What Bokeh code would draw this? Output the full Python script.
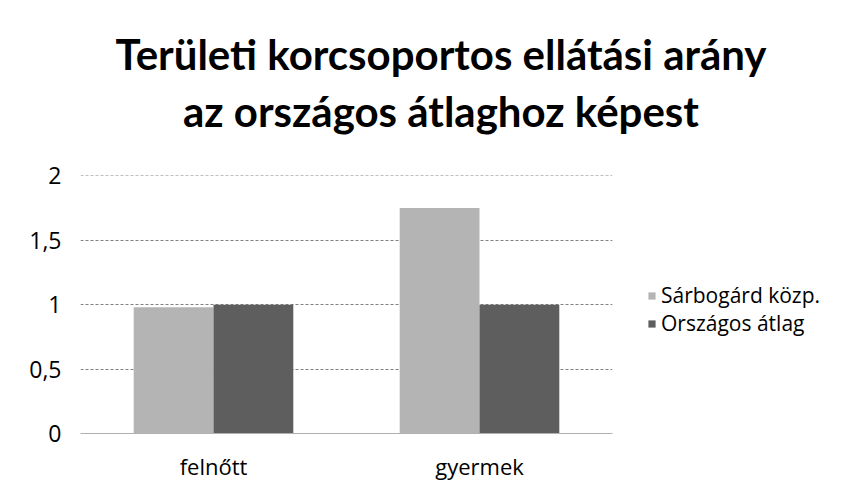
from bokeh.plotting import figure
from bokeh.models import ColumnDataSource, FactorRange, Range1d, Legend, LegendItem, SingleIntervalTicker, CustomJSTickFormatter, Div
from bokeh.layouts import column
from bokeh.transform import dodge
from bokeh.embed import file_html
from bokeh.resources import INLINE

categories = ["felnőtt", "gyermek"]
sarbogard = [0.98, 1.75]
orszagos = [1.0, 1.0]
series_names = ["Sárbogárd közp.", "Országos átlag"]
title_lines = ["Területi korcsoportos ellátási arány", "az országos átlaghoz képest"]

src = ColumnDataSource(dict(cat=categories, s=sarbogard, o=orszagos))

title = Div(text=("<div style='font-family:Lato;font-weight:bold;font-size:42px;line-height:57px;"
                  "text-align:center;color:black;width:790px;margin-left:46px;padding-top:26px;'>"
                  + title_lines[0] + "<br>" + title_lines[1] + "</div>"),
            width=842, height=158, margin=(0, 0, 0, 0))

p = figure(frame_width=532, frame_height=258, x_range=FactorRange(*categories, range_padding=0),
           y_range=Range1d(0, 2.003), output_backend="svg", toolbar_location=None,
           min_border_left=80, min_border_right=0, min_border_bottom=41, min_border_top=17,
           margin=(0, 0, 0, 0))
p.outline_line_color = None
p.background_fill_color = "white"
p.border_fill_color = "white"

r1 = p.vbar(x=dodge("cat", -0.15, range=p.x_range), top="s", width=0.3, source=src,
            fill_color="#b4b4b4", line_color=None)
r2 = p.vbar(x=dodge("cat", 0.15, range=p.x_range), top="o", width=0.3, source=src,
            fill_color="#5e5e5e", line_color=None)

p.yaxis.ticker = SingleIntervalTicker(interval=0.5)
p.yaxis.formatter = CustomJSTickFormatter(code="return String(tick).replace('.', ',');")
p.yaxis.axis_line_color = None
p.yaxis.major_tick_line_color = None
p.yaxis.minor_tick_line_color = None
p.yaxis.major_label_text_font = "Open Sans"
p.yaxis.major_label_text_font_size = "23px"
p.yaxis.major_label_text_color = "black"
p.yaxis.major_label_standoff = 13

p.xaxis.axis_line_color = "#b0b0b0"
p.xaxis.major_tick_line_color = None
p.xaxis.minor_tick_line_color = None
p.xaxis.major_label_text_font = "Open Sans"
p.xaxis.major_label_text_font_size = "22px"
p.xaxis.major_label_text_color = "black"
p.xaxis.major_label_standoff = 11

p.xgrid.grid_line_color = None
p.ygrid.grid_line_color = "#808080"
p.ygrid.grid_line_dash = "3 2"
p.ygrid.grid_line_width = 1

legend = Legend(items=[LegendItem(label=series_names[0], renderers=[r1]),
                       LegendItem(label=series_names[1], renderers=[r2])],
                location=(35, 96), border_line_color=None, background_fill_alpha=0,
                label_text_font="Open Sans", label_text_font_size="21px", label_text_color="black",
                glyph_width=9, glyph_height=9, spacing=-4, label_standoff=5, margin=0, padding=0)
p.add_layout(legend, "right")

layout = column(title, p, spacing=0)
open("out.html", "w").write(file_html(layout, INLINE))
